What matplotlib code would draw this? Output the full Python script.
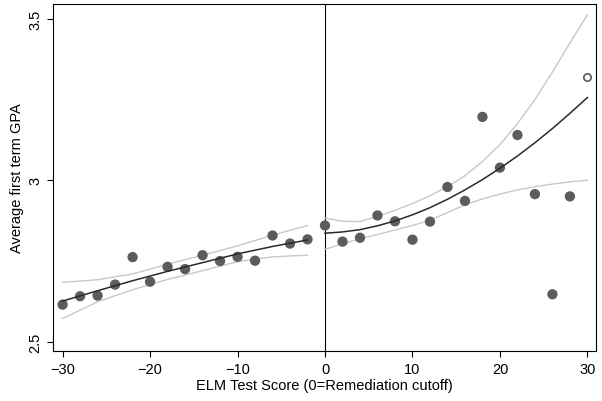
import matplotlib.pyplot as plt

plt.rcParams['font.family'] = ['Liberation Sans', 'DejaVu Sans']

# binned means of first term GPA by ELM score
score = [-30, -28, -26, -24, -22, -20, -18, -16, -14, -12, -10, -8, -6, -4, -2,
         0, 2, 4, 6, 8, 10, 12, 14, 16, 18, 20, 22, 24, 26, 28]
gpa = [2.615, 2.641, 2.643, 2.677, 2.762, 2.686, 2.732, 2.725, 2.768, 2.750,
       2.763, 2.751, 2.829, 2.804, 2.817,
       2.860, 2.810, 2.822, 2.891, 2.873, 2.816, 2.872, 2.979, 2.936, 3.196,
       3.039, 3.140, 2.957, 2.647, 2.950]
# last bin shown with an open marker
last_score = [30]
last_gpa = [3.318]

# fitted values and confidence band, below the cutoff
fit_x_left = [-30, -26, -22, -18, -14, -10, -6, -2]
fit_left = [2.626, 2.658, 2.689, 2.718, 2.745, 2.772, 2.795, 2.815]
upper_left = [2.684, 2.692, 2.710, 2.740, 2.768, 2.797, 2.830, 2.860]
lower_left = [2.572, 2.624, 2.661, 2.693, 2.720, 2.748, 2.763, 2.768]

# fitted values and confidence band, above the cutoff
fit_x_right = [0, 2, 4, 6, 8, 10, 12, 14, 16, 18, 20, 22, 24, 26, 28, 30]
fit_right = [2.836, 2.840, 2.847, 2.859, 2.874, 2.893, 2.915, 2.941, 2.970,
             3.002, 3.037, 3.075, 3.116, 3.160, 3.207, 3.256]
upper_right = [2.883, 2.873, 2.872, 2.888, 2.907, 2.928, 2.952, 2.980, 3.014,
               3.058, 3.110, 3.175, 3.250, 3.335, 3.425, 3.512]
lower_right = [2.786, 2.803, 2.819, 2.832, 2.846, 2.860, 2.876, 2.900, 2.924,
               2.942, 2.957, 2.970, 2.980, 2.988, 2.995, 3.000]

fig = plt.figure(figsize=(6.02, 4.02), dpi=100)
ax = fig.add_axes([0.088, 0.124, 0.902, 0.864])

band = dict(color='#c8c8c8', lw=1.0, zorder=2)
for xs, up, lo in [(fit_x_left, upper_left, lower_left),
                   (fit_x_right, upper_right, lower_right)]:
    ax.plot(xs, up, **band)
    ax.plot(xs, lo, **band)

ax.scatter(score, gpa, s=55, color='#5c5c5c', edgecolors='none', zorder=3)
ax.scatter(last_score, last_gpa, s=28, facecolors='white',
           edgecolors='#5c5c5c', linewidths=1.2, zorder=3)

ax.plot(fit_x_left, fit_left, color='#2a2a2a', lw=1.1, zorder=4)
ax.plot(fit_x_right, fit_right, color='#2a2a2a', lw=1.1, zorder=4)

ax.axvline(0, color='black', lw=0.8, zorder=1)

ax.set_xlim(-31.1, 30.98)
ax.set_ylim(2.471, 3.546)
ax.set_xticks([-30, -20, -10, 0, 10, 20, 30])
ax.set_yticks([2.5, 3, 3.5])
ax.set_yticklabels(['2.5', '3', '3.5'], rotation=90, va='center')
ax.tick_params(direction='out', length=4.5, width=0.8, labelsize=10.5, pad=3)
for sp in ax.spines.values():
    sp.set_linewidth(0.8)

ax.set_xlabel('ELM Test Score (0=Remediation cutoff)', fontsize=10.5, labelpad=2)
ax.set_ylabel('Average first term GPA', fontsize=10.5, labelpad=3)

fig.savefig('out.png', dpi=100)
